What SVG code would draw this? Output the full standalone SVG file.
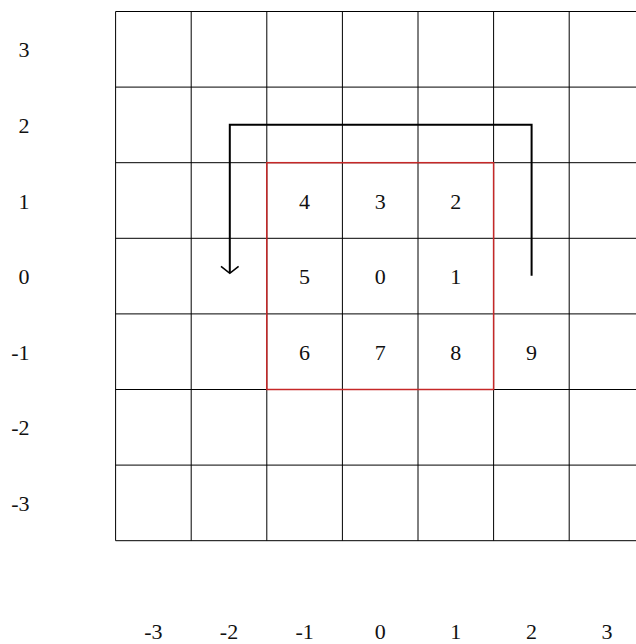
<svg xmlns="http://www.w3.org/2000/svg" width="636" height="644" viewBox="0 0 636 644">
<style>
.g{stroke:#000;stroke-width:1;fill:none}
.t{font-family:"Liberation Serif","DejaVu Serif",serif;font-size:22px;fill:#111;text-anchor:middle}
.l{font-family:"Liberation Serif","DejaVu Serif",serif;font-size:22px;fill:#111;text-anchor:end}
</style>
<rect width="636" height="644" fill="#fff"/>
<g id="grid" class="g">
<path d="M115.6 11.5V540.7M191.2 11.5V540.7M266.8 11.5V540.7M342.4 11.5V540.7M418 11.5V540.7M493.6 11.5V540.7M569.2 11.5V540.7"/>
<path d="M115.6 11.5H636M115.6 87.1H636M115.6 162.7H636M115.6 238.3H636M115.6 313.9H636M115.6 389.5H636M115.6 465.1H636M115.6 540.7H636"/>
</g>
<g id="window">
<rect x="266.8" y="162.7" width="226.8" height="226.8" fill="none" stroke="#c62828" stroke-width="1.5"/>
</g>
<g id="cells" class="t">
<text x="304.6" y="208.5">4</text>
<text x="380.2" y="208.5">3</text>
<text x="455.8" y="208.5">2</text>
<text x="304.6" y="284.1">5</text>
<text x="380.2" y="284.1">0</text>
<text x="455.8" y="284.1">1</text>
<text x="304.6" y="359.7">6</text>
<text x="380.2" y="359.7">7</text>
<text x="455.8" y="359.7">8</text>
<text x="531.4" y="359.7">9</text>
</g>
<g id="connectors" fill="none" stroke="#000">
<path d="M531.6 275.7V124.7H229.8V273" stroke-width="2"/>
<path d="M221 266.3L229.8 273.3L238.6 266.3" stroke-width="1.6"/>
</g>
<g id="yaxis" class="l">
<text x="29.5" y="57.3">3</text>
<text x="29.5" y="132.9">2</text>
<text x="29.5" y="208.5">1</text>
<text x="29.5" y="284.1">0</text>
<text x="29.5" y="359.7">-1</text>
<text x="29.5" y="435.3">-2</text>
<text x="29.5" y="510.9">-3</text>
</g>
<g id="xaxis" class="t">
<text x="153.4" y="638.5">-3</text>
<text x="229" y="638.5">-2</text>
<text x="304.6" y="638.5">-1</text>
<text x="380.2" y="638.5">0</text>
<text x="455.8" y="638.5">1</text>
<text x="531.4" y="638.5">2</text>
<text x="607" y="638.5">3</text>
</g>
</svg>
